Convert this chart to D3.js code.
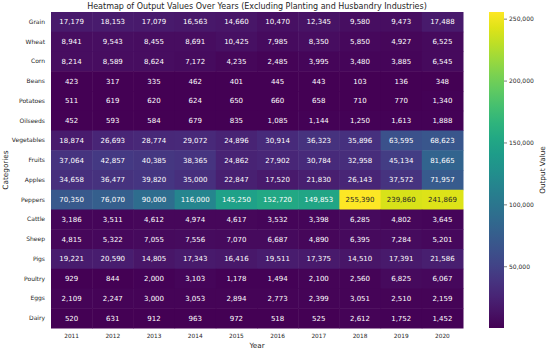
<!DOCTYPE html>
<html>
<head>
<meta charset="utf-8">
<script src="https://cdn.jsdelivr.net/npm/d3@7"></script>
<style>
  body { margin: 0; background: #fff; }
  svg { font-family: "DejaVu Sans", sans-serif; }
</style>
</head>
<body>
<svg id="chart"></svg>
<script>
let years = ['2011', '2012', '2013', '2014', '2015', '2016', '2017', '2018', '2019', '2020']
let categories = ['Grain', 'Wheat', 'Corn', 'Beans', 'Potatoes', 'Oilseeds', 'Vegetables', 'Fruits',
  'Apples', 'Peppers', 'Cattle', 'Sheep', 'Pigs', 'Poultry', 'Eggs', 'Dairy']

let grain = [17179, 18153, 17079, 16563, 14660, 10470, 12345, 9580, 9473, 17488]
let wheat = [8941, 9543, 8455, 8691, 10425, 7985, 8350, 5850, 4927, 6525]
let corn = [8214, 8589, 8624, 7172, 4235, 2485, 3995, 3480, 3885, 6545]
let beans = [423, 317, 335, 462, 401, 445, 443, 103, 136, 348]
let potatoes = [511, 619, 620, 624, 650, 660, 658, 710, 770, 1340]
let oilseeds = [452, 593, 584, 679, 835, 1085, 1144, 1250, 1613, 1888]
let vegetables = [18874, 26693, 28774, 29072, 24896, 30914, 36323, 35896, 63595, 68623]
let fruits = [37064, 42857, 40385, 38365, 24862, 27902, 30784, 32958, 45134, 81665]
let apples = [34658, 36477, 39820, 35000, 22847, 17520, 21830, 26143, 37572, 71957]
let peppers = [70350, 76070, 90000, 116000, 145250, 152720, 149853, 255390, 239860, 241869]
let cattle = [3186, 3511, 4612, 4974, 4617, 3532, 3398, 6285, 4802, 3645]
let sheep = [4815, 5322, 7055, 7556, 7070, 6687, 4890, 6395, 7284, 5201]
let pigs = [19221, 20590, 14805, 17343, 16416, 19511, 17375, 14510, 17391, 21586]
let poultry = [929, 844, 2000, 3103, 1178, 1494, 2100, 2560, 6825, 6067]
let eggs = [2109, 2247, 3000, 3053, 2894, 2773, 2399, 3051, 2510, 2159]
let dairy = [520, 631, 912, 963, 972, 518, 525, 2612, 1752, 1452]

let colorbarTicks = [50000, 100000, 150000, 200000, 250000]

let rows = [grain, wheat, corn, beans, potatoes, oilseeds, vegetables, fruits,
  apples, peppers, cattle, sheep, pigs, poultry, eggs, dairy]

let w = 550
let h = 351
let mLeft = 51, mRight = 463, mTop = 12, mBottom = 328

let svg = d3.select('#chart').attr('width', w).attr('height', h)

// flatten into cells
let cells = []
rows.forEach((row, i) => {
  row.forEach((v, j) => {
    cells.push({ cat: categories[i], year: years[j], value: v })
  })
})

let allValues = cells.map(c => c.value)
let vmin = d3.min(allValues)
let vmax = d3.max(allValues)

let xScale = d3.scaleBand().domain(years).range([mLeft, mRight])
let yScale = d3.scaleBand().domain(categories).range([mTop, mBottom])
let color = d3.scaleSequential(d3.interpolateViridis).domain([vmin, vmax])
let fmt = d3.format(',')

svg.append('g')
  .selectAll('rect')
  .data(cells)
  .enter()
  .append('rect')
  .attr('x', d => xScale(d.year))
  .attr('y', d => yScale(d.cat))
  .attr('width', xScale.bandwidth() + 0.5)
  .attr('height', yScale.bandwidth() + 0.5)
  .attr('fill', d => color(d.value))

// annotations, dark text on light cells like seaborn
let luminance = (c) => {
  let rgb = d3.rgb(c)
  let f = (x) => {
    x = x / 255
    return x <= 0.03928 ? x / 12.92 : Math.pow((x + 0.055) / 1.055, 2.4)
  }
  return 0.2126 * f(rgb.r) + 0.7152 * f(rgb.g) + 0.0722 * f(rgb.b)
}

svg.append('g')
  .selectAll('text')
  .data(cells)
  .enter()
  .append('text')
  .attr('x', d => xScale(d.year) + xScale.bandwidth() / 2)
  .attr('y', d => yScale(d.cat) + yScale.bandwidth() / 2)
  .attr('dy', '0.35em')
  .attr('text-anchor', 'middle')
  .attr('font-size', 7)
  .attr('fill', d => luminance(color(d.value)) > 0.408 ? '#262626' : '#ffffff')
  .text(d => fmt(d.value))

// axes
let xAxis = d3.axisBottom(xScale).tickSize(0).tickPadding(6)
let gx = svg.append('g')
  .attr('transform', 'translate(0,' + mBottom + ')')
  .call(xAxis)
gx.select('.domain').remove()
gx.selectAll('text').attr('font-size', 5.8).attr('fill', '#262626').attr('font-family', 'DejaVu Sans')

let yAxis = d3.axisLeft(yScale).tickSize(0).tickPadding(6)
let gy = svg.append('g')
  .attr('transform', 'translate(' + mLeft + ',0)')
  .call(yAxis)
gy.select('.domain').remove()
gy.selectAll('text').attr('font-size', 6).attr('fill', '#262626').attr('font-family', 'DejaVu Sans')

svg.append('text')
  .attr('x', (mLeft + mRight) / 2)
  .attr('y', 9)
  .attr('text-anchor', 'middle')
  .attr('font-size', 8)
  .attr('fill', '#262626')
  .text('Heatmap of Output Values Over Years (Excluding Planting and Husbandry Industries)')

svg.append('text')
  .attr('x', (mLeft + mRight) / 2)
  .attr('y', 348)
  .attr('text-anchor', 'middle')
  .attr('font-size', 7.2)
  .attr('fill', '#262626')
  .text('Year')

svg.append('text')
  .attr('transform', 'translate(8,' + (mTop + mBottom) / 2 + ') rotate(-90)')
  .attr('text-anchor', 'middle')
  .attr('font-size', 7.3)
  .attr('fill', '#262626')
  .text('Categories')

// colorbar
let cbX = 489, cbW = 15
let defs = svg.append('defs')
let grad = defs.append('linearGradient')
  .attr('id', 'cbgrad')
  .attr('x1', 0).attr('y1', 1).attr('x2', 0).attr('y2', 0)
d3.range(0, 1.0001, 0.05).forEach(t => {
  grad.append('stop')
    .attr('offset', t)
    .attr('stop-color', d3.interpolateViridis(t))
})
svg.append('rect')
  .attr('x', cbX)
  .attr('y', mTop)
  .attr('width', cbW)
  .attr('height', mBottom - mTop)
  .attr('fill', 'url(#cbgrad)')

let cbScale = d3.scaleLinear().domain([vmin, vmax]).range([mBottom, mTop])
let cbAxis = d3.axisRight(cbScale).tickValues(colorbarTicks).tickFormat(fmt).tickSize(3).tickPadding(2)
let gc = svg.append('g')
  .attr('transform', 'translate(' + (cbX + cbW) + ',0)')
  .call(cbAxis)
gc.select('.domain').remove()
gc.selectAll('line').attr('stroke', '#262626').attr('stroke-width', 0.6)
gc.selectAll('text').attr('font-size', 6).attr('fill', '#262626').attr('font-family', 'DejaVu Sans')

svg.append('text')
  .attr('transform', 'translate(545,' + (mTop + mBottom) / 2 + ') rotate(-90)')
  .attr('text-anchor', 'middle')
  .attr('font-size', 7.3)
  .attr('fill', '#262626')
  .text('Output Value')
</script>
</body>
</html>
